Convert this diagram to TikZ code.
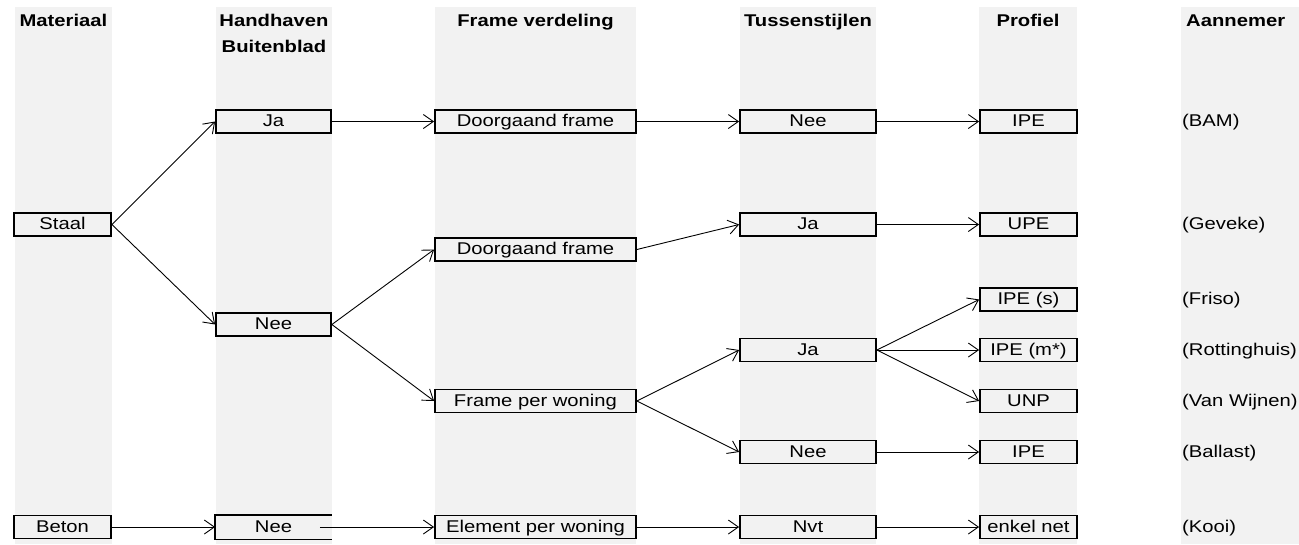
\documentclass[tikz,border=0pt]{standalone}
\usepackage{fontspec}
\setmainfont{Liberation Sans}[FakeStretch=1.19]
\usetikzlibrary{arrows.meta}
\definecolor{band}{HTML}{F2F2F2}
\begin{document}
\begin{tikzpicture}[x=1pt,y=-1pt,
  bandbox/.style={fill=band, draw=none},
  hdr/.style={font=\fontsize{17}{26}\selectfont\bfseries, anchor=base, inner sep=0pt, align=center},
  box/.style={draw, line width=1.8pt, fill=band, inner sep=0pt, minimum height=23pt,
    text height=12.5pt, text depth=2.5pt, font=\fontsize{17}{20}\selectfont},
  cA/.style={box, minimum width=97pt},
  cB/.style={box, minimum width=115pt},
  cC/.style={box, minimum width=201pt},
  cD/.style={box, minimum width=136pt},
  cE/.style={box, minimum width=97pt},
  lbl/.style={anchor=west, inner sep=0pt, text height=12.5pt, text depth=2.5pt,
    font=\fontsize{17}{20}\selectfont},
  arr/.style={-{Straight Barb[length=10pt,width=14pt]}, line width=0.9pt}
]
\useasboundingbox (0,0) rectangle (1299,544);
% column bands
\fill[band] (15,7) rectangle (112,544);
\fill[band] (216,7) rectangle (332,544);
\fill[band] (435,7) rectangle (636,544);
\fill[band] (740,7) rectangle (876,544);
\fill[band] (979,7) rectangle (1077,544);
\fill[band] (1181,7) rectangle (1299,544);
% headers
\node[hdr] (h1) at (63.5,26) {Materiaal};
\node[hdr] (h2) at (274,52) {Handhaven\\Buitenblad};
\node[hdr] (h3) at (535.5,26) {Frame verdeling};
\node[hdr] (h4) at (808,26) {Tussenstijlen};
\node[hdr] (h5) at (1028,26) {Profiel};
\node[hdr, anchor=base west] (h6) at (1186,26) {Aannemer};
% column 1
\node[cA] (staal) at (62.5,224.5) {Staal};
\node[cA] (beton) at (62.5,527) {Beton};
% column 2
\node[cB] (ja1) at (273.5,121.5) {Ja};
\node[cB] (nee1) at (273.5,324.5) {Nee};
\node[cB, draw=none] (nee5) at (273.5,527) {Nee};
\draw[line width=1.8pt] (nee5.north east) -- (nee5.north west) -- (nee5.south west) -- (nee5.south east);
% column 3
\node[cC] (df1) at (535.5,121.5) {Doorgaand frame};
\node[cC] (df2) at (535.5,249.5) {Doorgaand frame};
\node[cC] (fpw) at (535.5,401) {Frame per woning};
\node[cC] (epw) at (535.5,527) {Element per woning};
% column 4
\node[cD] (nee4a) at (808,121.5) {Nee};
\node[cD] (ja4a) at (808,224.5) {Ja};
\node[cD] (ja4b) at (808,350) {Ja};
\node[cD] (nee4b) at (808,452) {Nee};
\node[cD] (nvt) at (808,527) {Nvt};
% column 5
\node[cE] (ipe1) at (1028.5,121.5) {IPE};
\node[cE] (upe) at (1028.5,224.5) {UPE};
\node[cE] (ipes) at (1028.5,299.5) {IPE (s)};
\node[cE] (ipem) at (1028.5,350) {IPE (m*)};
\node[cE] (unp) at (1028.5,401) {UNP};
\node[cE] (ipe2) at (1028.5,452) {IPE};
\node[cE] (enkel) at (1028.5,527) {enkel net};
% column 6
\node[lbl] (a1) at (1182,121.5) {(BAM)};
\node[lbl] (a2) at (1182,224.5) {(Geveke)};
\node[lbl] (a3) at (1182,299.5) {(Friso)};
\node[lbl] (a4) at (1182,350) {(Rottinghuis)};
\node[lbl] (a5) at (1182,401) {(Van Wijnen)};
\node[lbl] (a6) at (1182,452) {(Ballast)};
\node[lbl] (a7) at (1182,527) {(Kooi)};
% connectors
\draw[arr] (staal.east) -- (ja1.west);
\draw[arr] (staal.east) -- (nee1.west);
\draw[arr] (beton.east) -- (nee5.west);
\draw[arr] (ja1.east) -- (df1.west);
\draw[arr] (nee1.east) -- (df2.west);
\draw[arr] (nee1.east) -- (fpw.west);
\draw[arr] ([xshift=-12pt]nee5.east) -- (epw.west);
\draw[arr] (df1.east) -- (nee4a.west);
\draw[arr] (df2.east) -- (ja4a.west);
\draw[arr] (fpw.east) -- (ja4b.west);
\draw[arr] (fpw.east) -- (nee4b.west);
\draw[arr] (epw.east) -- (nvt.west);
\draw[arr] (nee4a.east) -- (ipe1.west);
\draw[arr] (ja4a.east) -- (upe.west);
\draw[arr] (ja4b.east) -- (ipes.west);
\draw[arr] (ja4b.east) -- (ipem.west);
\draw[arr] (ja4b.east) -- (unp.west);
\draw[arr] (nee4b.east) -- (ipe2.west);
\draw[arr] (nvt.east) -- (enkel.west);
\end{tikzpicture}
\end{document}
